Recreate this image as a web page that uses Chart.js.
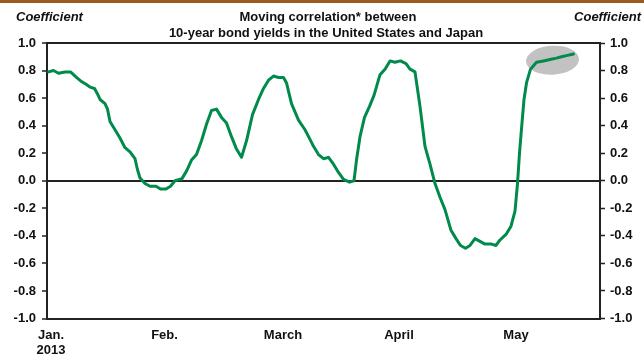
<!DOCTYPE html>
<html>
<head>
<meta charset="utf-8">
<title>Moving correlation - US and Japan 10-year yields</title>
<script src="https://cdn.jsdelivr.net/npm/chart.js@4/dist/chart.umd.min.js"></script>
<style>
    html, body { margin: 0; padding: 0; background: #fff; }
    #wrap { position: relative; width: 644px; height: 354px; }
</style>
</head>
<body>
<div id="wrap"><canvas id="corrChart"></canvas></div>
<script>
/* ============================================================
   Moving correlation of 10-year yields, US vs Japan (2013)
   ============================================================ */

// ── Data (x = business days since Jan. 1, 2013) ──────────────
const days = [
    0.3, 1.3, 2.3, 3.6, 4.7, 5.9, 6.9, 7.8, 8.6, 9.5,
    10.1, 10.6, 11.6, 12.1, 12.6, 13.6, 14.6, 15.6, 16.6, 17.6,
    18.1, 18.6, 19.6, 20.6, 21.8, 22.7, 23.8, 24.7, 25.6, 26.5,
    26.9, 27.9, 28.9, 29.9, 30.9, 31.9, 32.9, 33.9, 34.9, 35.9,
    36.9, 37.9, 38.9, 39.9, 41.1, 42.3, 43.3, 44.3, 45.3, 46.3,
    47.3, 47.9, 48.9, 50.3, 51.6, 52.6, 53.3, 54.3, 55.3, 56.3,
    57.3, 58.3, 59.3, 60.5, 61.4, 61.9, 62.6, 63.5, 64.5, 65.4,
    66.6, 67.6, 68.6, 69.6, 70.7, 71.8, 72.6, 73.6, 74.6, 75.6,
    76.6, 77.6, 78.6, 79.6, 80.8, 81.8, 82.7, 83.7, 84.6, 85.6,
    86.6, 87.6, 88.9, 89.8, 90.6, 91.8, 92.8, 93.6, 94.1, 94.5,
    95.0, 95.4, 95.9, 96.7, 97.9, 99.3, 100.6, 101.9, 102.9, 104.1,
    105.3
];

const correlation = [
    0.79, 0.80, 0.78, 0.79, 0.79, 0.75, 0.72, 0.70, 0.68, 0.67,
    0.63, 0.59, 0.56, 0.52, 0.43, 0.37, 0.31, 0.24, 0.21, 0.16,
    0.08, 0.02, -0.02, -0.04, -0.04, -0.06, -0.06, -0.04, 0.00, 0.01,
    0.01, 0.07, 0.15, 0.19, 0.29, 0.41, 0.51, 0.52, 0.46, 0.42,
    0.32, 0.23, 0.17, 0.29, 0.48, 0.59, 0.67, 0.73, 0.76, 0.75,
    0.75, 0.71, 0.56, 0.44, 0.37, 0.30, 0.25, 0.19, 0.16, 0.17,
    0.12, 0.06, 0.01, -0.01, 0.00, 0.15, 0.32, 0.46, 0.54, 0.62,
    0.77, 0.81, 0.87, 0.86, 0.87, 0.85, 0.81, 0.79, 0.54, 0.25,
    0.12, -0.02, -0.12, -0.21, -0.36, -0.42, -0.47, -0.49, -0.47, -0.42,
    -0.44, -0.46, -0.46, -0.47, -0.43, -0.39, -0.33, -0.22, -0.02, 0.20,
    0.42, 0.59, 0.71, 0.81, 0.86, 0.87, 0.88, 0.89, 0.90, 0.91,
    0.92
];

const monthLabels = [["Jan.", "2013"], "Feb.", "March", "April", "May"];
const monthTicks  = [0.8, 23.5, 47.2, 70.4, 93.8];

const titleLines = ["Moving correlation* between", "10-year bond yields in the United States and Japan"];
const axisTitle  = "Coefficient";

// highlight around the latest readings (data coords)
const highlightAt = { x: 101.1, y: 0.875 };

// ── Styles ────────────────────────────────────────────────────
const FONT     = "'Liberation Sans', Arial, Helvetica, sans-serif";
const INK      = "#111";
const AXIS_INK = "#222";
const GREEN    = "#008a4b";
const BROWN    = "#9c5a1e";

// ── Plugins ───────────────────────────────────────────────────
const highlightPlugin = {
    id: "highlight",
    beforeDatasetsDraw(chart) {
        const { ctx, scales } = chart;
        const cx = scales.x.getPixelForValue(highlightAt.x);
        const cy = scales.y.getPixelForValue(highlightAt.y);
        ctx.save();
        ctx.fillStyle = "#c2c2c2";
        ctx.beginPath();
        ctx.ellipse(cx, cy, 26.5, 14.5, -0.05, 0, Math.PI * 2);
        ctx.fill();
        ctx.restore();
    }
};

const headerPlugin = {
    id: "header",
    afterDraw(chart) {
        const { ctx, width } = chart;
        ctx.save();
        // brown rule across the top
        ctx.fillStyle = BROWN;
        ctx.fillRect(0, 0, width, 3);

        ctx.fillStyle = INK;
        ctx.textBaseline = "middle";
        ctx.font = `italic bold 13px ${FONT}`;
        ctx.textAlign = "left";
        ctx.fillText(axisTitle, 16, 17);
        ctx.textAlign = "right";
        ctx.fillText(axisTitle, 641, 17);

        ctx.font = `bold 13px ${FONT}`;
        ctx.textAlign = "center";
        ctx.fillText(titleLines[0], 328, 17);
        ctx.fillText(titleLines[1], 326, 33);
        ctx.restore();
    }
};

// ── Chart ─────────────────────────────────────────────────────
const tickFont = { family: FONT, size: 13, weight: "bold" };

new Chart(document.getElementById("corrChart"), {
    type: "line",
    data: {
        datasets: [{
            data: days.map((d, i) => ({ x: d, y: correlation[i] })),
            borderColor: GREEN,
            borderWidth: 3,
            pointRadius: 0,
            tension: 0,
            borderJoinStyle: "round",
            borderCapStyle: "round"
        }]
    },
    options: {
        responsive: true,
        maintainAspectRatio: false,
        animation: false,
        layout: { padding: { top: 43, left: 0, right: 0, bottom: 0 } },
        plugins: {
            legend: { display: false },
            tooltip: { enabled: false }
        },
        scales: {
            x: {
                type: "linear",
                min: 0,
                max: 110.6,
                afterBuildTicks: scale => { scale.ticks = monthTicks.map(v => ({ value: v })); },
                afterFit: scale => { scale.height = 35.5; },
                grid: { display: false, drawTicks: false },
                border: { display: true, color: AXIS_INK, width: 2 },
                ticks: {
                    autoSkip: false,
                    maxRotation: 0,
                    padding: 9,
                    color: INK,
                    font: tickFont,
                    callback: (v, i) => monthLabels[i]
                }
            },
            y: {
                position: "left",
                min: -1,
                max: 1,
                afterFit: scale => { scale.width = 47; },
                grid: {
                    drawOnChartArea: true,
                    color: c => (c.tick && (Math.abs(c.tick.value) < 1e-6 || Math.abs(Math.abs(c.tick.value) - 1) < 1e-6)) ? AXIS_INK : "rgba(0,0,0,0)",
                    lineWidth: 2,
                    tickColor: AXIS_INK,
                    tickWidth: 1.5,
                    tickLength: 5
                },
                border: { display: true, color: AXIS_INK, width: 2 },
                ticks: {
                    stepSize: 0.2,
                    padding: 6,
                    color: INK,
                    font: tickFont,
                    callback: v => v.toFixed(1)
                }
            },
            y2: {
                position: "right",
                min: -1,
                max: 1,
                afterFit: scale => { scale.width = 44; },
                grid: {
                    drawOnChartArea: false,
                    tickColor: AXIS_INK,
                    tickWidth: 1.5,
                    tickLength: 5
                },
                border: { display: true, color: AXIS_INK, width: 2 },
                ticks: {
                    stepSize: 0.2,
                    padding: 5,
                    color: INK,
                    font: tickFont,
                    callback: v => v.toFixed(1)
                }
            }
        }
    },
    plugins: [highlightPlugin, headerPlugin]
});
</script>
</body>
</html>
